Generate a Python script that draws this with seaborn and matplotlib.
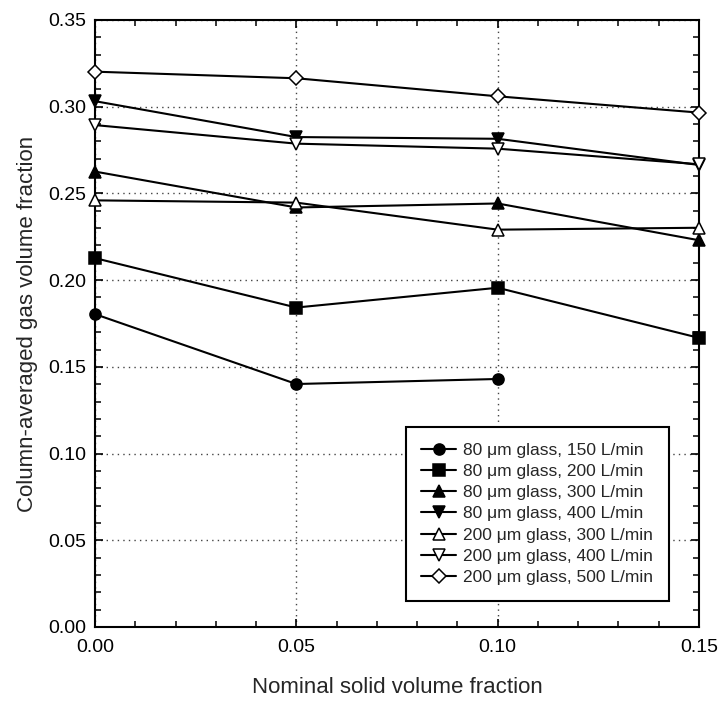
import matplotlib
matplotlib.use("Agg")
import matplotlib.pyplot as plt
import seaborn as sns
import pandas as pd
from matplotlib.ticker import MultipleLocator, FormatStrFormatter

x_vals = [0.00, 0.05, 0.10, 0.15]
labels = ["80 μm glass, 150 L/min", "80 μm glass, 200 L/min", "80 μm glass, 300 L/min",
          "80 μm glass, 400 L/min", "200 μm glass, 300 L/min", "200 μm glass, 400 L/min",
          "200 μm glass, 500 L/min"]
s1 = [0.1804, 0.1401, 0.1430]
s2 = [0.2127, 0.1842, 0.1956, 0.1667]
s3 = [0.2626, 0.2419, 0.2442, 0.2230]
s4 = [0.3032, 0.2825, 0.2815, 0.2664]
s5 = [0.2460, 0.2447, 0.2291, 0.2302]
s6 = [0.2894, 0.2787, 0.2758, 0.2668]
s7 = [0.3202, 0.3164, 0.3060, 0.2966]
series = [s1, s2, s3, s4, s5, s6, s7]
markers = ["o", "s", "^", "v", "^", "v", "D"]
filled = [True, True, True, True, False, False, False]

sns.set_style("ticks")
plt.rcParams['font.family'] = ['Liberation Sans', 'DejaVu Sans']

fig = plt.figure(figsize=(7.2, 7.04), dpi=100)
ax = fig.add_axes([0.1319, 0.1094, 0.8389, 0.8622])

for lab, s, m, f in zip(labels, series, markers, filled):
    df = pd.DataFrame({"x": x_vals[:len(s)], "y": s})
    sns.lineplot(data=df, x="x", y="y", ax=ax, color="black", lw=1.5,
                 marker=m, markersize=(7 if m == "D" else 8),
                 markerfacecolor=("black" if f else "white"),
                 markeredgecolor="black", markeredgewidth=1.1, label=lab,
                 clip_on=False, zorder=3)

ax.set_xlim(0, 0.15)
ax.set_ylim(0, 0.35)
ax.xaxis.set_major_locator(MultipleLocator(0.05))
ax.xaxis.set_minor_locator(MultipleLocator(0.01))
ax.yaxis.set_major_locator(MultipleLocator(0.05))
ax.yaxis.set_minor_locator(MultipleLocator(0.01))
ax.xaxis.set_major_formatter(FormatStrFormatter("%.2f"))
ax.yaxis.set_major_formatter(FormatStrFormatter("%.2f"))
ax.tick_params(which="both", direction="in", top=True, right=True, colors="black")
ax.tick_params(which="major", length=6, width=1.2, labelsize=14)
ax.tick_params(which="minor", length=4, width=1.1)
ax.tick_params(axis="x", which="major", pad=9)
ax.tick_params(axis="y", which="major", pad=6)
ax.grid(True, which="major", color="#444444", linestyle=(0, (1, 3)), lw=1.0)
for sp in ax.spines.values():
    sp.set_color("black")
    sp.set_linewidth(1.5)

ax.set_xlabel("Nominal solid volume fraction", fontsize=16, labelpad=15)
ax.set_ylabel("Column-averaged gas volume fraction", fontsize=16, labelpad=8)

leg = ax.legend(loc="upper right", bbox_to_anchor=(0.950, 0.3295), fontsize=12.5,
                frameon=True, fancybox=False, edgecolor="black", framealpha=1,
                handlelength=2.0, handletextpad=0.4, labelspacing=0.35,
                borderpad=0.9, borderaxespad=0)
leg.get_frame().set_linewidth(1.5)

fig.savefig("out.png", dpi=100)
